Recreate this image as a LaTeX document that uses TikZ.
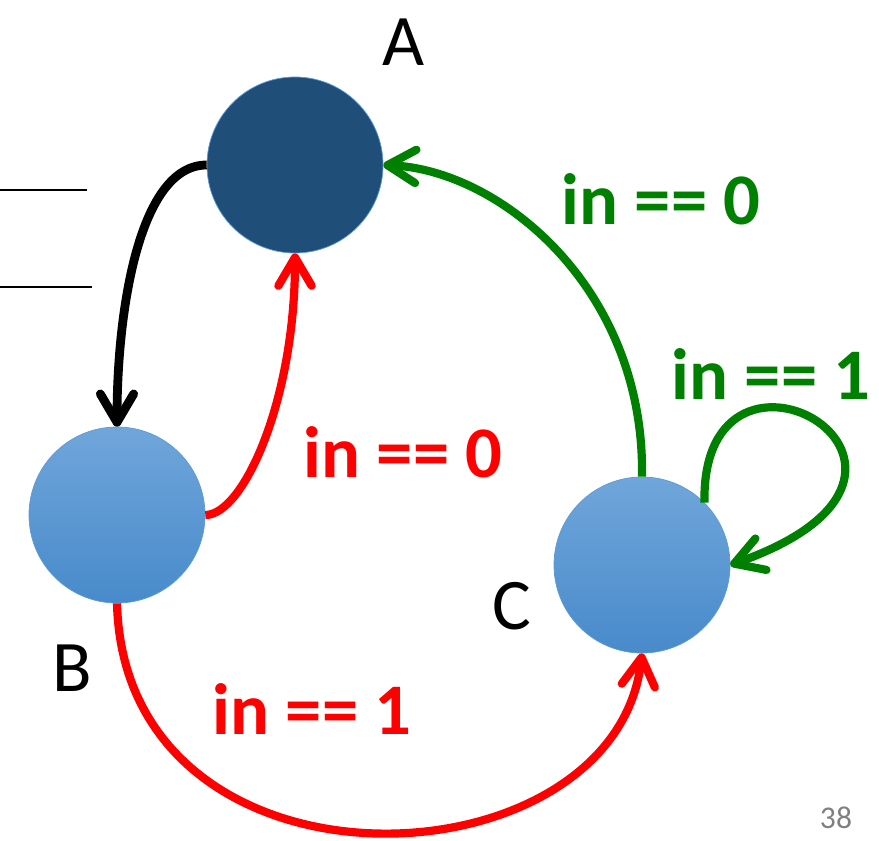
\documentclass[tikz,border=0pt]{standalone}
\usepackage{fontspec}
\setmainfont{Carlito}
\usetikzlibrary{arrows.meta}
\definecolor{statedark}{RGB}{31,78,121}
\definecolor{stateedge}{RGB}{91,155,213}
\definecolor{statetop}{RGB}{112,166,218}
\definecolor{statebot}{RGB}{72,138,203}
\definecolor{trgreen}{RGB}{0,128,0}
\definecolor{trred}{RGB}{255,0,0}

\begin{document}
\begin{tikzpicture}[
    x=0.03cm, y=-0.03cm,
    state/.style={
        circle, draw=stateedge, line width=0.6pt,
        minimum size=5.28cm, inner sep=0pt
    },
    statelabel/.style={font=\fontsize{62}{70}\selectfont},
    cond/.style={font=\fontsize{62}{70}\selectfont\bfseries},
    trans/.style={line width=7pt, -{Straight Barb[length=8.5mm, width=10mm, round]}}
]
\useasboundingbox (0,0) rectangle (879,840);

% states
\node[state, fill=statedark] (A) at (295,165) {};
\node[state, top color=statetop, bottom color=statebot] (B) at (117,515) {};
\node[state, top color=statetop, bottom color=statebot] (C) at (642,565) {};

% state names
\node[statelabel] (nameA) at (404,42) {A};
\node[statelabel] (nameB) at (72,668) {B};
\node[statelabel] (nameC) at (512,606) {C};

% lines on the left
\draw[line width=2.2pt] (0,190) -- (87,190);
\draw[line width=2.2pt] (0,287) -- (92,287);

% transitions
\draw[trans, black, line width=7.5pt] (A.west) .. controls +(-67,0) and +(0,-118) .. (B.north);
\draw[trans, trred] (B.east) .. controls +(38,0) and +(0,147) .. (A.south);
\draw[trans, trred] (B.south) .. controls +(8,307) and +(-27,237) .. (C.south);
\draw[trans, trgreen] (C.north) .. controls +(3,-188) and +(117,5) .. (A.east);
\draw[trans, trgreen] (C.45) .. controls +(-4,-203) and +(269,-95) .. (C.east);

% conditions
\node[cond, text=trgreen] (condCA) at (661,199) {in == 0};
\node[cond, text=trgreen] (condCC) at (771,374) {in == 1};
\node[cond, text=trred] (condBA) at (403,452) {in == 0};
\node[cond, text=trred] (condBC) at (312,709) {in == 1};

% page number
\node[font=\fontsize{27}{30}\selectfont, text=gray] (page) at (836,818) {38};

\end{tikzpicture}
\end{document}
